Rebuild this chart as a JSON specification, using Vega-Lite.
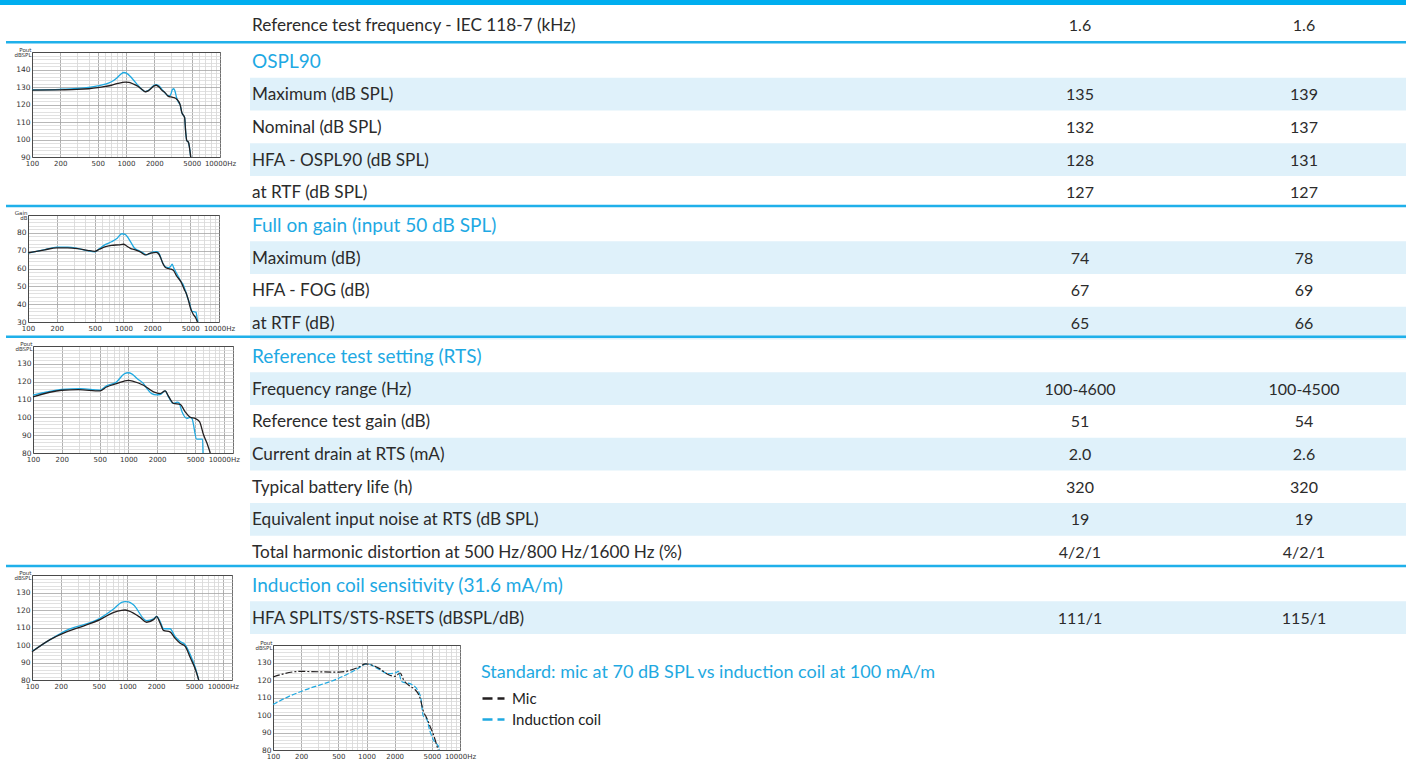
{
"$schema": "https://vega.github.io/schema/vega-lite/v6.json",
"background": "white",
"padding": 0,
"autosize": {"type": "none"},
"width": 1406,
"height": 764,
"config": {"view": {"stroke": null}, "font": "Lato"},
"datasets": {
"table": [
{"section":"top","kind":"top","label":"Reference test frequency - IEC 118-7 (kHz)","v1":"1.6","v2":"1.6"},
{"section":"ospl","kind":"heading","label":"OSPL90","v1":"","v2":""},
{"section":"ospl","kind":"item","label":"Maximum (dB SPL)","v1":"135","v2":"139"},
{"section":"ospl","kind":"item","label":"Nominal (dB SPL)","v1":"132","v2":"137"},
{"section":"ospl","kind":"item","label":"HFA - OSPL90 (dB SPL)","v1":"128","v2":"131"},
{"section":"ospl","kind":"item","label":"at RTF (dB SPL)","v1":"127","v2":"127"},
{"section":"fog","kind":"heading","label":"Full on gain (input 50 dB SPL)","v1":"","v2":""},
{"section":"fog","kind":"item","label":"Maximum (dB)","v1":"74","v2":"78"},
{"section":"fog","kind":"item","label":"HFA - FOG (dB)","v1":"67","v2":"69"},
{"section":"fog","kind":"item","label":"at RTF (dB)","v1":"65","v2":"66"},
{"section":"rts","kind":"heading","label":"Reference test setting (RTS)","v1":"","v2":""},
{"section":"rts","kind":"item","label":"Frequency range (Hz)","v1":"100-4600","v2":"100-4500"},
{"section":"rts","kind":"item","label":"Reference test gain (dB)","v1":"51","v2":"54"},
{"section":"rts","kind":"item","label":"Current drain at RTS (mA)","v1":"2.0","v2":"2.6"},
{"section":"rts","kind":"item","label":"Typical battery life (h)","v1":"320","v2":"320"},
{"section":"rts","kind":"item","label":"Equivalent input noise at RTS (dB SPL)","v1":"19","v2":"19"},
{"section":"rts","kind":"item","label":"Total harmonic distortion at 500 Hz/800 Hz/1600 Hz (%)","v1":"4/2/1","v2":"4/2/1"},
{"section":"coil","kind":"heading","label":"Induction coil sensitivity (31.6 mA/m)","v1":"","v2":""},
{"section":"coil","kind":"item","label":"HFA SPLITS/STS-RSETS (dBSPL/dB)","v1":"111/1","v2":"115/1"}
],
"c1": [
{"s":"B","f":100,"v":128.3},{"s":"B","f":200,"v":128.7},{"s":"B","f":300,"v":129.2},{"s":"B","f":400,"v":129.8},{"s":"B","f":500,"v":130.6},{"s":"B","f":600,"v":131.6},{"s":"B","f":700,"v":133.0},{"s":"B","f":800,"v":135.2},{"s":"B","f":880,"v":137.3},{"s":"B","f":950,"v":138.3},{"s":"B","f":1010,"v":137.9},{"s":"B","f":1100,"v":136.3},{"s":"B","f":1200,"v":134.0},{"s":"B","f":1350,"v":130.8},{"s":"B","f":1480,"v":128.5},{"s":"B","f":1600,"v":127.4},{"s":"B","f":1720,"v":127.9},{"s":"B","f":1850,"v":129.5},{"s":"B","f":1980,"v":131.0},{"s":"B","f":2100,"v":131.4},{"s":"B","f":2250,"v":130.6},{"s":"B","f":2400,"v":128.8},{"s":"B","f":2600,"v":126.6},{"s":"B","f":2800,"v":125.0},{"s":"B","f":2920,"v":124.9},{"s":"B","f":3020,"v":126.3},{"s":"B","f":3120,"v":128.6},{"s":"B","f":3230,"v":129.0},{"s":"B","f":3330,"v":127.4},{"s":"B","f":3450,"v":124.0},{"s":"B","f":3600,"v":121.5},{"s":"B","f":3770,"v":119.8},{"s":"B","f":3920,"v":115.5},{"s":"B","f":4200,"v":112.6},{"s":"B","f":4320,"v":104.0},{"s":"B","f":4430,"v":99.4},{"s":"B","f":4610,"v":98.5},{"s":"B","f":4880,"v":90.0},
{"s":"A","f":100,"v":128.2},{"s":"A","f":200,"v":128.4},{"s":"A","f":300,"v":128.6},{"s":"A","f":400,"v":129.0},{"s":"A","f":500,"v":129.6},{"s":"A","f":600,"v":130.3},{"s":"A","f":700,"v":131.0},{"s":"A","f":800,"v":131.9},{"s":"A","f":900,"v":132.5},{"s":"A","f":980,"v":132.8},{"s":"A","f":1080,"v":132.6},{"s":"A","f":1200,"v":131.7},{"s":"A","f":1350,"v":130.3},{"s":"A","f":1480,"v":128.6},{"s":"A","f":1600,"v":127.3},{"s":"A","f":1720,"v":127.8},{"s":"A","f":1850,"v":129.2},{"s":"A","f":1980,"v":130.6},{"s":"A","f":2100,"v":131.0},{"s":"A","f":2250,"v":130.0},{"s":"A","f":2400,"v":128.2},{"s":"A","f":2600,"v":126.8},{"s":"A","f":2800,"v":124.8},{"s":"A","f":3000,"v":124.3},{"s":"A","f":3200,"v":124.0},{"s":"A","f":3470,"v":123.0},{"s":"A","f":3770,"v":119.8},{"s":"A","f":3920,"v":115.5},{"s":"A","f":4200,"v":112.6},{"s":"A","f":4320,"v":104.0},{"s":"A","f":4430,"v":99.4},{"s":"A","f":4610,"v":98.5},{"s":"A","f":4880,"v":90.0}
],
"c2": [
{"s":"B","f":100,"v":68.6},{"s":"B","f":150,"v":70.6},{"s":"B","f":200,"v":72.0},{"s":"B","f":260,"v":72.0},{"s":"B","f":330,"v":71.3},{"s":"B","f":420,"v":70.0},{"s":"B","f":500,"v":69.3},{"s":"B","f":560,"v":71.2},{"s":"B","f":650,"v":73.5},{"s":"B","f":750,"v":75.0},{"s":"B","f":860,"v":77.0},{"s":"B","f":960,"v":79.5},{"s":"B","f":1040,"v":79.2},{"s":"B","f":1120,"v":77.2},{"s":"B","f":1200,"v":74.5},{"s":"B","f":1300,"v":71.5},{"s":"B","f":1450,"v":70.0},{"s":"B","f":1600,"v":68.8},{"s":"B","f":1750,"v":67.6},{"s":"B","f":1900,"v":68.6},{"s":"B","f":2050,"v":69.3},{"s":"B","f":2250,"v":69.4},{"s":"B","f":2400,"v":67.5},{"s":"B","f":2550,"v":63.5},{"s":"B","f":2750,"v":61.0},{"s":"B","f":2950,"v":60.5},{"s":"B","f":3100,"v":61.0},{"s":"B","f":3230,"v":62.5},{"s":"B","f":3350,"v":60.5},{"s":"B","f":3500,"v":58.5},{"s":"B","f":3750,"v":55.5},{"s":"B","f":3950,"v":53.0},{"s":"B","f":4200,"v":51.2},{"s":"B","f":4450,"v":47.5},{"s":"B","f":4700,"v":43.5},{"s":"B","f":4950,"v":40.0},{"s":"B","f":5200,"v":36.0},{"s":"B","f":5450,"v":35.8},{"s":"B","f":5750,"v":35.5},{"s":"B","f":5900,"v":32.0},{"s":"B","f":6020,"v":30.0},
{"s":"A","f":100,"v":68.8},{"s":"A","f":150,"v":70.5},{"s":"A","f":200,"v":71.6},{"s":"A","f":260,"v":71.6},{"s":"A","f":330,"v":71.2},{"s":"A","f":420,"v":70.2},{"s":"A","f":500,"v":69.6},{"s":"A","f":560,"v":70.8},{"s":"A","f":650,"v":72.2},{"s":"A","f":750,"v":73.0},{"s":"A","f":900,"v":73.3},{"s":"A","f":1000,"v":73.6},{"s":"A","f":1080,"v":72.6},{"s":"A","f":1180,"v":71.3},{"s":"A","f":1300,"v":70.6},{"s":"A","f":1500,"v":69.3},{"s":"A","f":1700,"v":67.6},{"s":"A","f":1850,"v":68.3},{"s":"A","f":2000,"v":68.8},{"s":"A","f":2200,"v":69.0},{"s":"A","f":2350,"v":68.0},{"s":"A","f":2450,"v":66.0},{"s":"A","f":2600,"v":62.5},{"s":"A","f":2750,"v":60.6},{"s":"A","f":2950,"v":60.0},{"s":"A","f":3150,"v":59.6},{"s":"A","f":3350,"v":58.8},{"s":"A","f":3600,"v":55.8},{"s":"A","f":4000,"v":52.5},{"s":"A","f":4350,"v":48.0},{"s":"A","f":4500,"v":46.5},{"s":"A","f":4750,"v":42.8},{"s":"A","f":5050,"v":37.5},{"s":"A","f":5350,"v":34.5},{"s":"A","f":5700,"v":32.4},{"s":"A","f":5950,"v":30.0}
],
"c3": [
{"s":"B","f":100,"v":112.4},{"s":"B","f":200,"v":115.6},{"s":"B","f":316,"v":116.1},{"s":"B","f":500,"v":115.2},{"s":"B","f":590,"v":117.6},{"s":"B","f":750,"v":119.8},{"s":"B","f":900,"v":124.3},{"s":"B","f":1000,"v":125.0},{"s":"B","f":1085,"v":124.4},{"s":"B","f":1250,"v":121.5},{"s":"B","f":1440,"v":118.9},{"s":"B","f":1600,"v":115.5},{"s":"B","f":1755,"v":113.3},{"s":"B","f":1950,"v":112.6},{"s":"B","f":2150,"v":112.8},{"s":"B","f":2430,"v":114.8},{"s":"B","f":2630,"v":111.5},{"s":"B","f":2970,"v":107.8},{"s":"B","f":3250,"v":108.5},{"s":"B","f":3380,"v":108.3},{"s":"B","f":3650,"v":103.1},{"s":"B","f":4100,"v":99.4},{"s":"B","f":4450,"v":100.0},{"s":"B","f":4640,"v":99.4},{"s":"B","f":5200,"v":87.8},{"s":"B","f":6000,"v":87.8},{"s":"B","f":6060,"v":80.0},
{"s":"A","f":100,"v":111.5},{"s":"A","f":200,"v":115.2},{"s":"A","f":300,"v":115.5},{"s":"A","f":503,"v":114.8},{"s":"A","f":590,"v":117.0},{"s":"A","f":753,"v":118.9},{"s":"A","f":1000,"v":120.7},{"s":"A","f":1127,"v":120.2},{"s":"A","f":1440,"v":118.0},{"s":"A","f":1835,"v":114.3},{"s":"A","f":2150,"v":113.3},{"s":"A","f":2430,"v":114.8},{"s":"A","f":2630,"v":111.9},{"s":"A","f":2970,"v":107.8},{"s":"A","f":3490,"v":107.2},{"s":"A","f":3940,"v":103.1},{"s":"A","f":4450,"v":100.0},{"s":"A","f":5020,"v":99.4},{"s":"A","f":5570,"v":97.6},{"s":"A","f":6140,"v":90.2},{"s":"A","f":6660,"v":85.6},{"s":"A","f":7220,"v":80.0}
],
"c4": [
{"s":"B","f":100,"v":96.4},{"s":"B","f":230,"v":108.4},{"s":"B","f":515,"v":115.2},{"s":"B","f":710,"v":120.4},{"s":"B","f":870,"v":124.4},{"s":"B","f":945,"v":124.8},{"s":"B","f":1030,"v":124.6},{"s":"B","f":1150,"v":123.1},{"s":"B","f":1590,"v":113.9},{"s":"B","f":1880,"v":114.9},{"s":"B","f":2030,"v":116.3},{"s":"B","f":2220,"v":113.0},{"s":"B","f":2390,"v":109.3},{"s":"B","f":2800,"v":109.3},{"s":"B","f":3170,"v":104.7},{"s":"B","f":3580,"v":102.0},{"s":"B","f":4040,"v":100.1},{"s":"B","f":4560,"v":94.6},{"s":"B","f":5150,"v":87.2},{"s":"B","f":5600,"v":80.0},
{"s":"A","f":100,"v":96.1},{"s":"A","f":153,"v":102.9},{"s":"A","f":230,"v":107.5},{"s":"A","f":345,"v":110.8},{"s":"A","f":515,"v":114.5},{"s":"A","f":710,"v":118.5},{"s":"A","f":870,"v":119.8},{"s":"A","f":945,"v":120.0},{"s":"A","f":1030,"v":119.5},{"s":"A","f":1360,"v":115.8},{"s":"A","f":1590,"v":113.0},{"s":"A","f":1880,"v":114.5},{"s":"A","f":2030,"v":116.2},{"s":"A","f":2220,"v":112.1},{"s":"A","f":2390,"v":108.4},{"s":"A","f":2800,"v":107.5},{"s":"A","f":3170,"v":103.8},{"s":"A","f":3580,"v":101.0},{"s":"A","f":4040,"v":99.2},{"s":"A","f":4560,"v":92.8},{"s":"A","f":5150,"v":86.3},{"s":"A","f":5600,"v":80.0}
],
"c5": [
{"s":"Induction coil","f":100,"v":106.0},{"s":"Induction coil","f":150,"v":110.8},{"s":"Induction coil","f":225,"v":114.5},{"s":"Induction coil","f":509,"v":121.1},{"s":"Induction coil","f":765,"v":125.8},{"s":"Induction coil","f":1015,"v":129.2},{"s":"Induction coil","f":1351,"v":126.2},{"s":"Induction coil","f":1724,"v":123.6},{"s":"Induction coil","f":2030,"v":124.0},{"s":"Induction coil","f":2190,"v":124.9},{"s":"Induction coil","f":2370,"v":119.2},{"s":"Induction coil","f":3050,"v":117.4},{"s":"Induction coil","f":3580,"v":113.6},{"s":"Induction coil","f":3810,"v":109.8},{"s":"Induction coil","f":4048,"v":99.4},{"s":"Induction coil","f":4388,"v":97.9},{"s":"Induction coil","f":4760,"v":90.9},{"s":"Induction coil","f":5380,"v":84.3},{"s":"Induction coil","f":5835,"v":82.5},{"s":"Induction coil","f":6000,"v":80.0},
{"s":"Mic","f":100,"v":121.7},{"s":"Mic","f":192,"v":124.9},{"s":"Mic","f":509,"v":124.5},{"s":"Mic","f":829,"v":127.4},{"s":"Mic","f":976,"v":129.2},{"s":"Mic","f":1351,"v":126.8},{"s":"Mic","f":1724,"v":123.0},{"s":"Mic","f":2030,"v":122.1},{"s":"Mic","f":2292,"v":124.0},{"s":"Mic","f":2487,"v":120.2},{"s":"Mic","f":2925,"v":116.4},{"s":"Mic","f":3306,"v":114.5},{"s":"Mic","f":3737,"v":109.8},{"s":"Mic","f":4048,"v":102.3},{"s":"Mic","f":4388,"v":98.5},{"s":"Mic","f":4760,"v":93.8},{"s":"Mic","f":5170,"v":89.1},{"s":"Mic","f":5835,"v":80.0}
]
},
"resolve": {"scale": {"x": "independent", "y": "independent", "color": "independent"}, "axis": {"x": "independent", "y": "independent"}},
"layer": [
{
"data": {"name": "table"},
"layer": [
{"data": {"values": [{}]}, "mark": {"type": "rect", "color": "#00aeef"},
 "encoding": {
  "x": {"datum": -2, "type": "quantitative", "scale": {"domain": [-2, -1, 0, 1, 2, 3], "range": [0, 6, 250, 1080, 1304, 1406], "nice": false, "zero": false}, "axis": null},
  "x2": {"datum": 3},
  "y": {"datum": -0.5, "type": "quantitative", "scale": {"domain": [-0.5, 0.5, 1.5, 19.5], "range": [0, 5, 45, 634], "nice": false, "zero": false}, "axis": null},
  "y2": {"datum": 0.5}}},
{"transform": [{"window": [{"op": "row_number", "as": "r"}]}, {"filter": "datum.kind == 'item'"}, {"window": [{"op": "row_number", "as": "n"}], "groupby": ["section"]}, {"filter": "datum.n % 2 == 1"}],
 "mark": {"type": "rule", "color": "#dff1fa", "strokeWidth": 32.7},
 "encoding": {"x": {"datum": 0, "type": "quantitative"}, "x2": {"datum": 3}, "y": {"field": "r", "type": "quantitative"}}},
{"transform": [{"window": [{"op": "row_number", "as": "r"}]}, {"filter": "datum.kind == 'heading'"}],
 "mark": {"type": "rule", "color": "#1fb0ea", "strokeWidth": 2.5, "yOffset": -19},
 "encoding": {"x": {"datum": -1, "type": "quantitative"}, "x2": {"datum": 3}, "y": {"field": "r", "type": "quantitative"}}},
{"transform": [{"window": [{"op": "row_number", "as": "r"}]}, {"filter": "datum.kind != 'heading'"}],
 "mark": {"type": "text", "align": "left", "baseline": "middle", "fontSize": 17.2, "color": "#2b2b2b", "dx": 2, "dy": 1},
 "encoding": {"x": {"datum": 0, "type": "quantitative"}, "y": {"field": "r", "type": "quantitative"}, "text": {"field": "label"}}},
{"transform": [{"window": [{"op": "row_number", "as": "r"}]}, {"filter": "datum.kind == 'heading'"}],
 "mark": {"type": "text", "align": "left", "baseline": "middle", "fontSize": 19, "color": "#1ea9e3", "dx": 2, "dy": 1},
 "encoding": {"x": {"datum": 0, "type": "quantitative"}, "y": {"field": "r", "type": "quantitative"}, "text": {"field": "label"}}},
{"transform": [{"window": [{"op": "row_number", "as": "r"}]}, {"filter": "datum.kind != 'heading'"}],
 "mark": {"type": "text", "align": "center", "baseline": "middle", "fontSize": 16, "color": "#2b2b2b", "dy": 1},
 "encoding": {"x": {"datum": 1, "type": "quantitative"}, "y": {"field": "r", "type": "quantitative"}, "text": {"field": "v1"}}},
{"transform": [{"window": [{"op": "row_number", "as": "r"}]}, {"filter": "datum.kind != 'heading'"}],
 "mark": {"type": "text", "align": "center", "baseline": "middle", "fontSize": 16, "color": "#2b2b2b", "dy": 1},
 "encoding": {"x": {"datum": 2, "type": "quantitative"}, "y": {"field": "r", "type": "quantitative"}, "text": {"field": "v2"}}}
]
},
{
"data": {"name": "c1"},
"resolve": {"axis": {"x": "independent"}},
"encoding": {
 "y": {"field": "v", "type": "quantitative", "scale": {"domain": [90, 150], "range": [157, 52], "nice": false, "zero": false},
  "axis": {"orient": "left", "offset": -32, "values": [90,92,94,96,98,100,102,104,106,108,110,112,114,116,118,120,122,124,126,128,130,132,134,136,138,140,142,144,146,148,150], "grid": true, "ticks": false, "domain": true, "domainColor": "#4a4a4a", "domainWidth": 1, "title": ["Pout", "dBSPL"], "titleAngle": 0, "titleAlign": "right", "titleBaseline": "top", "titleX": -1, "titleY": 47, "titleFont": "DejaVu Sans", "titleFontSize": 5.5, "titleFontWeight": "normal", "titleLineHeight": 5.5, "titleColor": "#333333", "labelFont": "DejaVu Sans", "labelFontSize": 7.5, "labelColor": "#333333", "labelPadding": 2, "gridWidth": 0.8, "gridColor": {"condition": [{"test": "datum.value == 150", "value": "#4a4a4a"}, {"test": "datum.value % 10 == 0", "value": "#a5a5a5"}], "value": "#d9d9d9"}, "labelExpr": "datum.value % 10 == 0 && datum.value < 150 ? datum.label : ''"}}
},
"layer": [
 {"transform": [{"filter": "datum.s == 'B'"}], "mark": {"type": "line", "color": "#1fa9e1", "strokeWidth": 1.3, "interpolate": "monotone"},
  "encoding": {"x": {"field": "f", "type": "quantitative", "scale": {"type": "log", "domain": [100, 10000], "range": [32, 220], "nice": false},
   "axis": {"orient": "top", "offset": -52, "values": [100,200,300,400,500,600,700,800,900,1000,2000,3000,4000,5000,6000,7000,8000,9000,10000], "grid": true, "ticks": false, "labels": false, "domain": true, "domainColor": "#4a4a4a", "domainWidth": 1, "title": null, "gridWidth": 0.8, "gridColor": {"condition": [{"test": "datum.value == 10000", "value": "#4a4a4a"}, {"test": "indexof([100,200,500,1000,2000,5000], datum.value) >= 0", "value": "#9a9a9a"}], "value": "#d4d4d4"}}}}},
 {"transform": [{"filter": "datum.s == 'A'"}], "mark": {"type": "line", "color": "#231f20", "strokeWidth": 1.3, "interpolate": "monotone"},
  "encoding": {"x": {"field": "f", "type": "quantitative", "scale": {"type": "log", "domain": [100, 10000], "range": [32, 220], "nice": false},
   "axis": {"orient": "bottom", "offset": -607, "values": [100,200,500,1000,2000,5000,10000], "grid": false, "ticks": false, "domain": true, "domainColor": "#4a4a4a", "domainWidth": 1, "title": null, "format": "d", "labelOverlap": false, "labelFlush": false, "labelFont": "DejaVu Sans", "labelFontSize": 7, "labelColor": "#333333", "labelPadding": 2, "labelExpr": "datum.value == 10000 ? '10000Hz' : datum.label"}}}}
]
},
{
"data": {"name": "c2"},
"resolve": {"axis": {"x": "independent"}},
"encoding": {
 "y": {"field": "v", "type": "quantitative", "scale": {"domain": [30, 90], "range": [322, 215], "nice": false, "zero": false},
  "axis": {"orient": "left", "offset": -28, "values": [30,32,34,36,38,40,42,44,46,48,50,52,54,56,58,60,62,64,66,68,70,72,74,76,78,80,82,84,86,88,90], "grid": true, "ticks": false, "domain": true, "domainColor": "#4a4a4a", "domainWidth": 1, "title": ["Gain", "dB"], "titleAngle": 0, "titleAlign": "right", "titleBaseline": "top", "titleX": -1, "titleY": 210, "titleFont": "DejaVu Sans", "titleFontSize": 5.5, "titleFontWeight": "normal", "titleLineHeight": 5.5, "titleColor": "#333333", "labelFont": "DejaVu Sans", "labelFontSize": 7.5, "labelColor": "#333333", "labelPadding": 2, "gridWidth": 0.8, "gridColor": {"condition": [{"test": "datum.value == 90", "value": "#4a4a4a"}, {"test": "datum.value % 10 == 0", "value": "#a5a5a5"}], "value": "#d9d9d9"}, "labelExpr": "datum.value % 10 == 0 && datum.value < 90 ? datum.label : ''"}}
},
"layer": [
 {"transform": [{"filter": "datum.s == 'B'"}], "mark": {"type": "line", "color": "#1fa9e1", "strokeWidth": 1.3, "interpolate": "monotone"},
  "encoding": {"x": {"field": "f", "type": "quantitative", "scale": {"type": "log", "domain": [100, 10000], "range": [28, 219], "nice": false},
   "axis": {"orient": "top", "offset": -215, "values": [100,200,300,400,500,600,700,800,900,1000,2000,3000,4000,5000,6000,7000,8000,9000,10000], "grid": true, "ticks": false, "labels": false, "domain": true, "domainColor": "#4a4a4a", "domainWidth": 1, "title": null, "gridWidth": 0.8, "gridColor": {"condition": [{"test": "datum.value == 10000", "value": "#4a4a4a"}, {"test": "indexof([100,200,500,1000,2000,5000], datum.value) >= 0", "value": "#9a9a9a"}], "value": "#d4d4d4"}}}}},
 {"transform": [{"filter": "datum.s == 'A'"}], "mark": {"type": "line", "color": "#231f20", "strokeWidth": 1.3, "interpolate": "monotone"},
  "encoding": {"x": {"field": "f", "type": "quantitative", "scale": {"type": "log", "domain": [100, 10000], "range": [28, 219], "nice": false},
   "axis": {"orient": "bottom", "offset": -442, "values": [100,200,500,1000,2000,5000,10000], "grid": false, "ticks": false, "domain": true, "domainColor": "#4a4a4a", "domainWidth": 1, "title": null, "format": "d", "labelOverlap": false, "labelFlush": false, "labelFont": "DejaVu Sans", "labelFontSize": 7, "labelColor": "#333333", "labelPadding": 2, "labelExpr": "datum.value == 10000 ? '10000Hz' : datum.label"}}}}
]
},
{
"data": {"name": "c3"},
"resolve": {"axis": {"x": "independent"}},
"encoding": {
 "y": {"field": "v", "type": "quantitative", "scale": {"domain": [80, 140], "range": [453, 346], "nice": false, "zero": false},
  "axis": {"orient": "left", "offset": -33, "values": [80,82,84,86,88,90,92,94,96,98,100,102,104,106,108,110,112,114,116,118,120,122,124,126,128,130,132,134,136,138,140], "grid": true, "ticks": false, "domain": true, "domainColor": "#4a4a4a", "domainWidth": 1, "title": ["Pout", "dBSPL"], "titleAngle": 0, "titleAlign": "right", "titleBaseline": "top", "titleX": -1, "titleY": 341, "titleFont": "DejaVu Sans", "titleFontSize": 5.5, "titleFontWeight": "normal", "titleLineHeight": 5.5, "titleColor": "#333333", "labelFont": "DejaVu Sans", "labelFontSize": 7.5, "labelColor": "#333333", "labelPadding": 2, "gridWidth": 0.8, "gridColor": {"condition": [{"test": "datum.value == 140", "value": "#4a4a4a"}, {"test": "datum.value % 10 == 0", "value": "#a5a5a5"}], "value": "#d9d9d9"}, "labelExpr": "datum.value % 10 == 0 && datum.value < 140 ? datum.label : ''"}}
},
"layer": [
 {"transform": [{"filter": "datum.s == 'B'"}], "mark": {"type": "line", "color": "#1fa9e1", "strokeWidth": 1.3, "interpolate": "monotone"},
  "encoding": {"x": {"field": "f", "type": "quantitative", "scale": {"type": "log", "domain": [100, 12500], "range": [33, 233], "nice": false},
   "axis": {"orient": "top", "offset": -346, "values": [100,200,300,400,500,600,700,800,900,1000,2000,3000,4000,5000,6000,7000,8000,9000,10000,12500], "grid": true, "ticks": false, "labels": false, "domain": true, "domainColor": "#4a4a4a", "domainWidth": 1, "title": null, "gridWidth": 0.8, "gridColor": {"condition": [{"test": "datum.value == 12500", "value": "#4a4a4a"}, {"test": "indexof([100,200,500,1000,2000,5000,10000], datum.value) >= 0", "value": "#9a9a9a"}], "value": "#d4d4d4"}}}}},
 {"transform": [{"filter": "datum.s == 'A'"}], "mark": {"type": "line", "color": "#231f20", "strokeWidth": 1.3, "interpolate": "monotone"},
  "encoding": {"x": {"field": "f", "type": "quantitative", "scale": {"type": "log", "domain": [100, 12500], "range": [33, 233], "nice": false},
   "axis": {"orient": "bottom", "offset": -311, "values": [100,200,500,1000,2000,5000,10000], "grid": false, "ticks": false, "domain": true, "domainColor": "#4a4a4a", "domainWidth": 1, "title": null, "format": "d", "labelOverlap": false, "labelFlush": false, "labelFont": "DejaVu Sans", "labelFontSize": 7, "labelColor": "#333333", "labelPadding": 2, "labelExpr": "datum.value == 10000 ? '10000Hz' : datum.label"}}}}
]
},
{
"data": {"name": "c4"},
"resolve": {"axis": {"x": "independent"}},
"encoding": {
 "y": {"field": "v", "type": "quantitative", "scale": {"domain": [80, 140], "range": [680, 575], "nice": false, "zero": false},
  "axis": {"orient": "left", "offset": -32, "values": [80,82,84,86,88,90,92,94,96,98,100,102,104,106,108,110,112,114,116,118,120,122,124,126,128,130,132,134,136,138,140], "grid": true, "ticks": false, "domain": true, "domainColor": "#4a4a4a", "domainWidth": 1, "title": ["Pout", "dBSPL"], "titleAngle": 0, "titleAlign": "right", "titleBaseline": "top", "titleX": -1, "titleY": 570, "titleFont": "DejaVu Sans", "titleFontSize": 5.5, "titleFontWeight": "normal", "titleLineHeight": 5.5, "titleColor": "#333333", "labelFont": "DejaVu Sans", "labelFontSize": 7.5, "labelColor": "#333333", "labelPadding": 2, "gridWidth": 0.8, "gridColor": {"condition": [{"test": "datum.value == 140", "value": "#4a4a4a"}, {"test": "datum.value % 10 == 0", "value": "#a5a5a5"}], "value": "#d9d9d9"}, "labelExpr": "datum.value % 10 == 0 && datum.value < 140 ? datum.label : ''"}}
},
"layer": [
 {"transform": [{"filter": "datum.s == 'B'"}], "mark": {"type": "line", "color": "#1fa9e1", "strokeWidth": 1.3, "interpolate": "monotone"},
  "encoding": {"x": {"field": "f", "type": "quantitative", "scale": {"type": "log", "domain": [100, 12500], "range": [32, 232], "nice": false},
   "axis": {"orient": "top", "offset": -575, "values": [100,200,300,400,500,600,700,800,900,1000,2000,3000,4000,5000,6000,7000,8000,9000,10000,12500], "grid": true, "ticks": false, "labels": false, "domain": true, "domainColor": "#4a4a4a", "domainWidth": 1, "title": null, "gridWidth": 0.8, "gridColor": {"condition": [{"test": "datum.value == 12500", "value": "#4a4a4a"}, {"test": "indexof([100,200,500,1000,2000,5000,10000], datum.value) >= 0", "value": "#9a9a9a"}], "value": "#d4d4d4"}}}}},
 {"transform": [{"filter": "datum.s == 'A'"}], "mark": {"type": "line", "color": "#231f20", "strokeWidth": 1.3, "interpolate": "monotone"},
  "encoding": {"x": {"field": "f", "type": "quantitative", "scale": {"type": "log", "domain": [100, 12500], "range": [32, 232], "nice": false},
   "axis": {"orient": "bottom", "offset": -84, "values": [100,200,500,1000,2000,5000,10000], "grid": false, "ticks": false, "domain": true, "domainColor": "#4a4a4a", "domainWidth": 1, "title": null, "format": "d", "labelOverlap": false, "labelFlush": false, "labelFont": "DejaVu Sans", "labelFontSize": 7, "labelColor": "#333333", "labelPadding": 2, "labelExpr": "datum.value == 10000 ? '10000Hz' : datum.label"}}}}
]
},
{
"data": {"name": "c5"},
"resolve": {"axis": {"x": "independent"}},
"encoding": {
 "y": {"field": "v", "type": "quantitative", "scale": {"domain": [80, 140], "range": [750, 645], "nice": false, "zero": false},
  "axis": {"orient": "left", "offset": -273, "values": [80,82,84,86,88,90,92,94,96,98,100,102,104,106,108,110,112,114,116,118,120,122,124,126,128,130,132,134,136,138,140], "grid": true, "ticks": false, "domain": true, "domainColor": "#4a4a4a", "domainWidth": 1, "title": ["Pout", "dBSPL"], "titleAngle": 0, "titleAlign": "right", "titleBaseline": "top", "titleX": -1, "titleY": 640, "titleFont": "DejaVu Sans", "titleFontSize": 5.5, "titleFontWeight": "normal", "titleLineHeight": 5.5, "titleColor": "#333333", "labelFont": "DejaVu Sans", "labelFontSize": 7.5, "labelColor": "#333333", "labelPadding": 2, "gridWidth": 0.8, "gridColor": {"condition": [{"test": "datum.value == 140", "value": "#4a4a4a"}, {"test": "datum.value % 10 == 0", "value": "#a5a5a5"}], "value": "#d9d9d9"}, "labelExpr": "datum.value % 10 == 0 && datum.value < 140 ? datum.label : ''"}},
 "color": {"field": "s", "type": "nominal", "scale": {"domain": ["Mic", "Induction coil"], "range": ["#231f20", "#1fa9e1"]},
  "legend": {"title": "Standard: mic at 70 dB SPL vs induction coil at 100 mA/m", "orient": "none", "legendX": 481, "legendY": 664, "titleColor": "#1fa9e1", "titleFont": "Lato", "titleFontSize": 18, "titleFontWeight": "normal", "titleLimit": 700, "titlePadding": 4, "labelFont": "Lato", "labelFontSize": 15, "labelColor": "#222222", "labelOffset": 6, "symbolType": "stroke", "symbolSize": 484, "symbolStrokeWidth": 2.5, "symbolDash": [10, 5], "rowPadding": -3}}
},
"layer": [
 {"transform": [{"filter": "datum.s == 'Induction coil'"}], "mark": {"type": "line", "strokeWidth": 1.2, "strokeDash": [5, 2], "interpolate": "monotone"},
  "encoding": {"x": {"field": "f", "type": "quantitative", "scale": {"type": "log", "domain": [100, 10000], "range": [273, 460], "nice": false},
   "axis": {"orient": "top", "offset": -645, "values": [100,200,300,400,500,600,700,800,900,1000,2000,3000,4000,5000,6000,7000,8000,9000,10000], "grid": true, "ticks": false, "labels": false, "domain": true, "domainColor": "#4a4a4a", "domainWidth": 1, "title": null, "gridWidth": 0.8, "gridColor": {"condition": [{"test": "datum.value == 10000", "value": "#4a4a4a"}, {"test": "indexof([100,200,500,1000,2000,5000], datum.value) >= 0", "value": "#9a9a9a"}], "value": "#d4d4d4"}}}}},
 {"transform": [{"filter": "datum.s == 'Mic'"}], "mark": {"type": "line", "strokeWidth": 1.2, "strokeDash": [7, 2, 2, 2], "interpolate": "monotone"},
  "encoding": {"x": {"field": "f", "type": "quantitative", "scale": {"type": "log", "domain": [100, 10000], "range": [273, 460], "nice": false},
   "axis": {"orient": "bottom", "offset": -14, "values": [100,200,500,1000,2000,5000,10000], "grid": false, "ticks": false, "domain": true, "domainColor": "#4a4a4a", "domainWidth": 1, "title": null, "format": "d", "labelOverlap": false, "labelFlush": false, "labelFont": "DejaVu Sans", "labelFontSize": 7, "labelColor": "#333333", "labelPadding": 2, "labelExpr": "datum.value == 10000 ? '10000Hz' : datum.label"}}}}
]
}
]
}
